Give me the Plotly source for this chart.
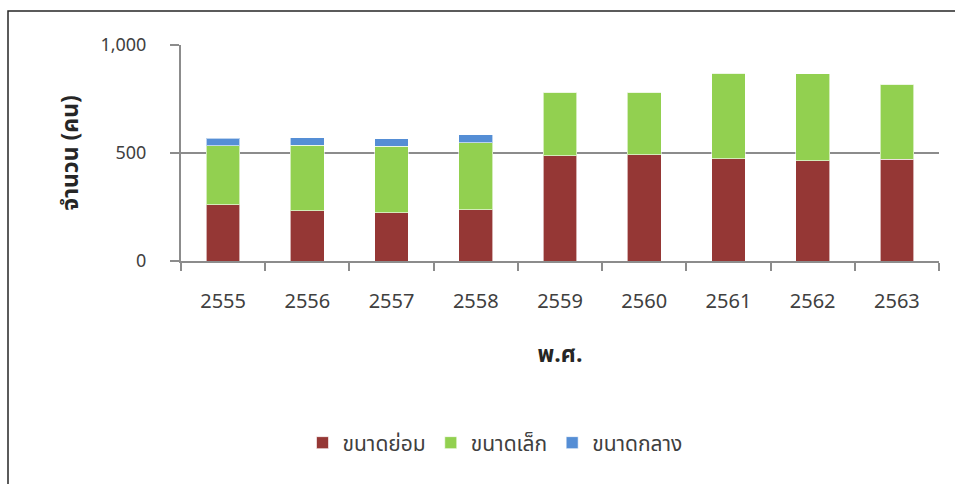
import plotly.graph_objects as go

years = ["2555", "2556", "2557", "2558", "2559", "2560", "2561", "2562", "2563"]
tiny = [260, 232, 223, 237, 487, 491, 474, 464, 471]      # ขนาดย่อม
small = [274, 305, 308, 311, 295, 291, 396, 404, 348]     # ขนาดเล็ก
medium = [34, 34, 34, 36, 0, 0, 0, 0, 0]                  # ขนาดกลาง
series_names = ["ขนาดย่อม", "ขนาดเล็ก", "ขนาดกลาง"]
colors = ["#953735", "#92D050", "#558ED5"]
y_ticks = [0, 500, 1000]
y_ticktext = ["0", "500", "1,000"]

FONT = "Noto Sans Thai, Noto Sans, DejaVu Sans, sans-serif"

fig = go.Figure()
for name, vals, col in zip(series_names, [tiny, small, medium], colors):
    fig.add_trace(go.Bar(
        x=years, y=vals, name=name,
        marker=dict(color=col, line=dict(color="rgba(255,255,255,0.6)", width=1)),
    ))

W, H = 955, 484
L, R, T, B = 181, 16, 45, 223
pw, ph = W - L - R, H - T - B

fig.update_layout(
    width=W, height=H,
    margin=dict(l=L, r=R, t=T, b=B),
    barmode="stack", bargap=0.6,
    plot_bgcolor="white", paper_bgcolor="white",
    font=dict(family=FONT, size=18, color="#404040"),
    showlegend=True,
    legend=dict(orientation="h", x=(495 - L) / pw, xanchor="center",
                y=((H - B) - 443) / ph, yanchor="middle",
                font=dict(size=21, color="#404040"), traceorder="normal",
                itemwidth=30),
    xaxis=dict(
        type="category", showgrid=False, showline=True, linecolor="#8c8c8c", linewidth=2,
        ticks="outside", tickson="boundaries", ticklen=8, tickcolor="#8c8c8c", tickwidth=1.5,
        ticklabelstandoff=21, tickfont=dict(size=20), automargin=False,
        title=dict(text="<b>พ.ศ.</b>", font=dict(size=23, color="#262626"), standoff=30),
    ),
    yaxis=dict(
        range=[0, 1000], tickvals=y_ticks, ticktext=y_ticktext,
        showgrid=True, gridcolor="#8c8c8c", gridwidth=2,
        showline=True, linecolor="#8c8c8c", linewidth=2, zeroline=False,
        ticks="outside", ticklen=9, tickcolor="#8c8c8c", tickwidth=1.5,
        ticklabelstandoff=20, tickfont=dict(size=18), automargin=False,
        title=dict(text="<b>จำนวน (คน)</b>", font=dict(size=23, color="#262626"), standoff=15),
    ),
)

# outer chart border (extends past right and bottom edges)
fig.add_shape(type="rect", xref="paper", yref="paper",
              x0=(8 - L) / pw, x1=(W + 10 - L) / pw,
              y0=((H - B) - (H + 10)) / ph, y1=((H - B) - 11) / ph,
              line=dict(color="#262626", width=1.5), fillcolor="rgba(0,0,0,0)", layer="below")

fig.write_html("out.html", config={"displayModeBar": False},
               post_script="document.body.style.margin='0px';document.body.style.overflow='hidden';")
